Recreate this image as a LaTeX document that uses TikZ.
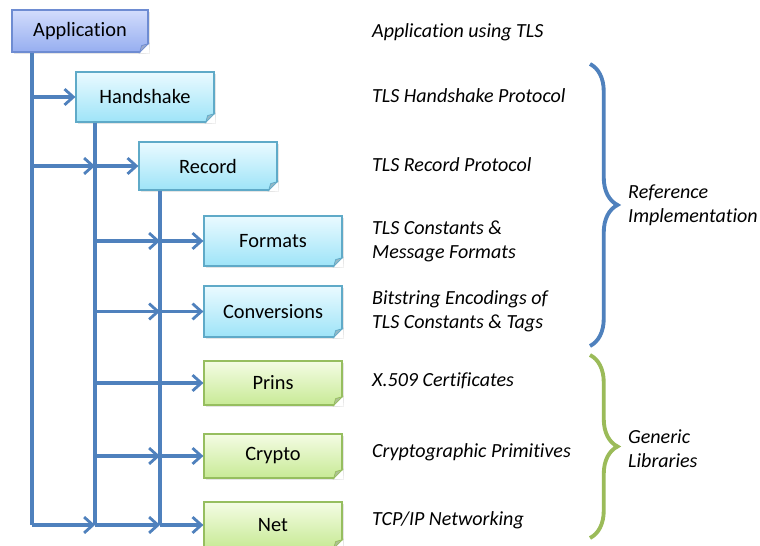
\documentclass[tikz,border=0pt]{standalone}
\usepackage{fontspec}
\setmainfont{Carlito}[Ligatures=NoCommon]
\usetikzlibrary{arrows.meta,shadows,decorations.pathreplacing,calc}

\definecolor{linkblue}{RGB}{79,129,189}
\definecolor{bracegreen}{RGB}{155,187,89}
\definecolor{apptop}{RGB}{210,220,252}
\definecolor{appbot}{RGB}{150,174,240}
\definecolor{appline}{RGB}{110,140,210}
\definecolor{reftop}{RGB}{234,250,255}
\definecolor{refbot}{RGB}{158,228,248}
\definecolor{refline}{RGB}{95,170,200}
\definecolor{libtop}{RGB}{244,252,228}
\definecolor{libbot}{RGB}{200,234,150}
\definecolor{libline}{RGB}{150,190,95}

\tikzset{
  module/.style={draw, line width=0.7pt, minimum width=2.76cm, minimum height=1cm,
    font=\fontsize{11.6}{13.6}\selectfont,
    drop shadow={opacity=0.2, shadow xshift=1pt, shadow yshift=-1pt}},
  appbox/.style={module, draw=appline, top color=apptop, bottom color=appbot},
  refbox/.style={module, draw=refline, top color=reftop, bottom color=refbot},
  libbox/.style={module, draw=libline, top color=libtop, bottom color=libbot},
  link/.style={linkblue, line width=2pt},
  arr/.style={link, -{Straight Barb[length=5pt, width=9pt, line width=1.6pt]}},
  desc/.style={anchor=west, align=left, font=\fontsize{11.4}{13.6}\selectfont\itshape},
  curly/.style={line width=2.2pt, decorate, decoration={brace, amplitude=0.55cm}},
}

% folded corner of a box
\newcommand\foldcorner[2]{
  \fill[white] ($(#1.south east)+(-9,0)$) -- ($(#1.south east)+(1,1)$) -- ($(#1.south east)+(0,-9)$) -- cycle;
  \filldraw[fill=#2!80!black!60, draw=#2] ($(#1.south east)+(-9,0)$) -- ($(#1.south east)+(0,-9)$) -- ($(#1.south east)+(-7,-7)$) -- cycle;
}

\begin{document}
\begin{tikzpicture}[x=0.02cm, y=-0.02cm]
  \fill[white] (0,0) rectangle (760,546);
  \useasboundingbox (0,0) rectangle (760,546);

  \node[appbox, minimum width=2.72cm, minimum height=0.84cm] (Application) at (80,31) {Application};
  \node[refbox] (Handshake) at (145,97) {Handshake};
  \node[refbox, minimum height=0.96cm] (Record) at (208,166) {Record};
  \node[refbox] (Formats) at (273,241) {Formats};
  \node[refbox, minimum height=1.02cm] (Conversions) at (273,311.5) {Conversions};
  \node[libbox, minimum height=0.88cm] (Prins) at (273,383) {Prins};
  \node[libbox, minimum height=0.88cm] (Crypto) at (273,456) {Crypto};
  \node[libbox, minimum height=0.92cm] (Net) at (273,525) {Net};

  \foldcorner{Application}{appline}
  \foreach \n in {Handshake,Record,Formats,Conversions} {\foldcorner{\n}{refline}}
  \foreach \n in {Prins,Crypto,Net} {\foldcorner{\n}{libline}}

  \coordinate (rA) at (32,0);
  \coordinate (rB) at (95,0);
  \coordinate (rC) at (160,0);

  \draw[link] (Application.south -| rA) -- (Net.west -| rA);
  \draw[link] (Handshake.south -| rB) -- (Net.west -| rB);
  \draw[link] (Record.south -| rC) -- (Net.west -| rC);

  \draw[arr] (Handshake.west -| rA) -- (Handshake.west);
  \draw[arr] (Record.west -| rA) -- (Record.west -| rB);
  \draw[arr] (Record.west -| rB) -- (Record.west);
  \foreach \n in {Formats,Conversions,Crypto} {
    \draw[arr] (\n.west -| rB) -- (\n.west -| rC);
    \draw[arr] (\n.west -| rC) -- (\n.west);
  }
  \draw[arr] (Prins.west -| rB) -- (Prins.west);
  \draw[arr] (Net.west -| rA) -- (Net.west -| rB);
  \draw[arr] (Net.west -| rB) -- (Net.west -| rC);
  \draw[arr] (Net.west -| rC) -- (Net.west);

  \node[desc] (dApplication) at (366,32) {Application using TLS};
  \node[desc] (dHandshake) at (366,96) {TLS Handshake Protocol};
  \node[desc] (dRecord) at (366,165) {TLS Record Protocol};
  \node[desc] (dFormats) at (366,241) {TLS Constants \&\\Message Formats};
  \node[desc] (dConversions) at (366,311) {Bitstring Encodings of\\TLS Constants \& Tags};
  \node[desc] (dPrins) at (366,381) {X.509 Certificates};
  \node[desc] (dCrypto) at (366,452) {Cryptographic Primitives};
  \node[desc] (dNet) at (366,520) {TCP/IP Networking};

  \draw[curly, linkblue] (590,64) -- (590,346);
  \draw[curly, bracegreen] (590,355) -- (590,538);
  \node[desc] (refimpl) at (622,205) {Reference\\Implementation};
  \node[desc] (genlib) at (622,449) {Generic\\Libraries};
\end{tikzpicture}
\end{document}
